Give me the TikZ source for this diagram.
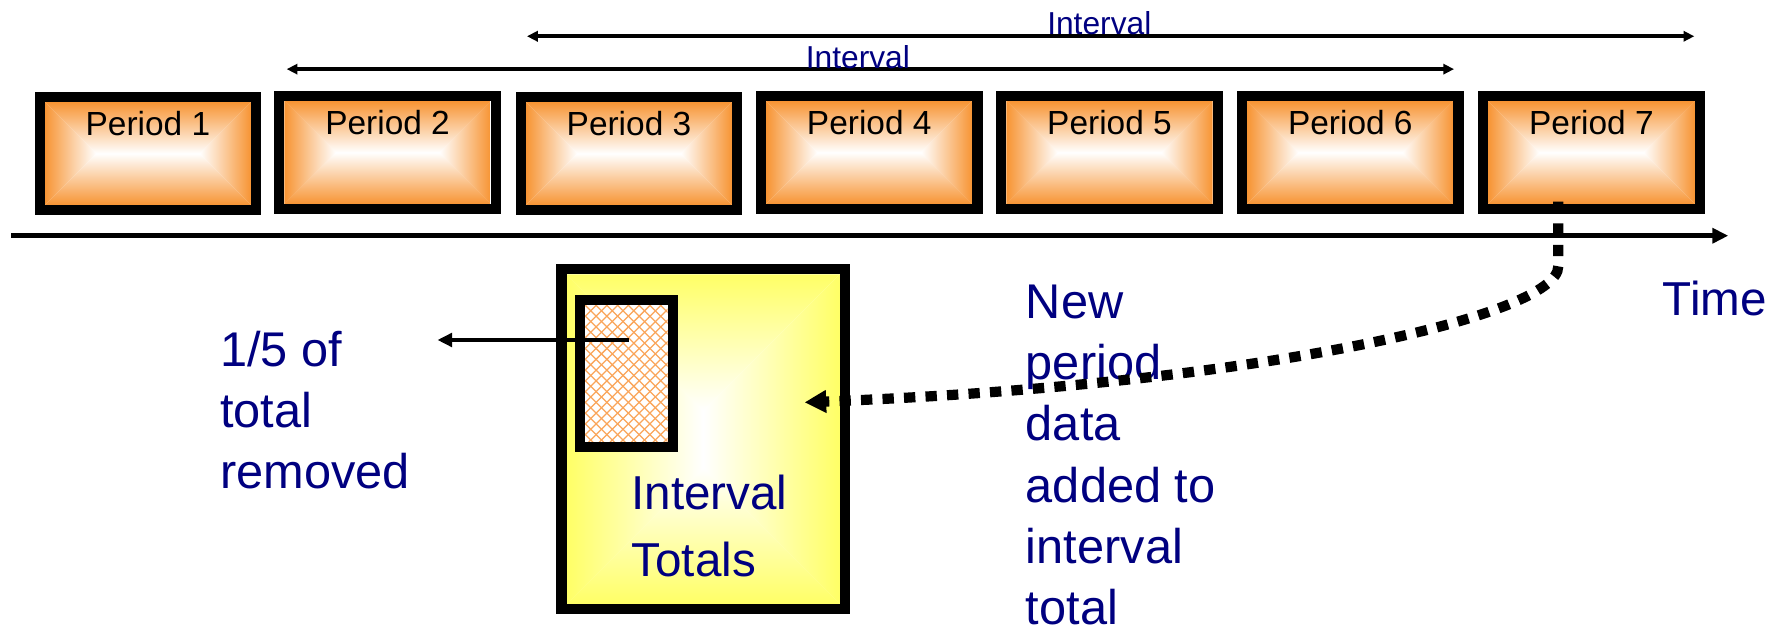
\documentclass[tikz,border=0pt]{standalone}
\usepackage{fontspec}
\setmainfont{Liberation Sans}
\usetikzlibrary{arrows.meta}
\definecolor{porange}{RGB}{247,148,51}
\definecolor{pyellow}{RGB}{255,255,102}
\definecolor{navytext}{RGB}{0,0,128}
\definecolor{hatchorange}{RGB}{250,165,90}
% rectangle gradient "from centre", wide rectangle
\newcommand\hgrad[5]{%
  \pgfmathsetmacro\gxa{#1}\pgfmathsetmacro\gya{#2}%
  \pgfmathsetmacro\gxb{#3}\pgfmathsetmacro\gyb{#4}%
  \pgfmathsetmacro\gcy{(\gya+\gyb)/2}%
  \pgfmathsetmacro\gsa{\gxa+(\gyb-\gya)/2}%
  \pgfmathsetmacro\gsb{\gxb-(\gyb-\gya)/2}%
  \fill[white] (\gxa,\gya) rectangle (\gxb,\gyb);
  \shade[left color=#5,right color=white] (\gxa,\gya) -- (\gsa,\gcy) -- (\gxa,\gyb) -- cycle;
  \shade[left color=white,right color=#5] (\gxb,\gya) -- (\gsb,\gcy) -- (\gxb,\gyb) -- cycle;
  \shade[top color=#5,bottom color=white] (\gxa,\gya) -- (\gxb,\gya) -- (\gsb,\gcy) -- (\gsa,\gcy) -- cycle;
  \shade[top color=white,bottom color=#5] (\gxa,\gyb) -- (\gxb,\gyb) -- (\gsb,\gcy) -- (\gsa,\gcy) -- cycle;
}
% rectangle gradient "from centre", tall rectangle
\newcommand\vgrad[5]{%
  \pgfmathsetmacro\gxa{#1}\pgfmathsetmacro\gya{#2}%
  \pgfmathsetmacro\gxb{#3}\pgfmathsetmacro\gyb{#4}%
  \pgfmathsetmacro\gcx{(\gxa+\gxb)/2}%
  \pgfmathsetmacro\gsa{\gya+(\gxb-\gxa)/2}%
  \pgfmathsetmacro\gsb{\gyb-(\gxb-\gxa)/2}%
  \fill[white] (\gxa,\gya) rectangle (\gxb,\gyb);
  \shade[top color=#5,bottom color=white] (\gxa,\gya) -- (\gxb,\gya) -- (\gcx,\gsa) -- cycle;
  \shade[top color=white,bottom color=#5] (\gxa,\gyb) -- (\gxb,\gyb) -- (\gcx,\gsb) -- cycle;
  \shade[left color=#5,right color=white] (\gxa,\gya) -- (\gcx,\gsa) -- (\gcx,\gsb) -- (\gxa,\gyb) -- cycle;
  \shade[left color=white,right color=#5] (\gxb,\gya) -- (\gcx,\gsa) -- (\gcx,\gsb) -- (\gxb,\gyb) -- cycle;
}
% period box: name, x1, y1, x2, y2, label
\newcommand\periodbox[6]{%
  \pgfmathsetmacro\pxa{#2}\pgfmathsetmacro\pya{#3}%
  \pgfmathsetmacro\pxb{#4}\pgfmathsetmacro\pyb{#5}%
  \hgrad{\pxa+9}{\pya+9}{\pxb-9}{\pyb-9}{porange}
  \pgfmathsetmacro\pxa{#2}\pgfmathsetmacro\pya{#3}%
  \pgfmathsetmacro\pxb{#4}\pgfmathsetmacro\pyb{#5}%
  \draw[thickbox] ({\pxa+4.5},{\pya+4.5}) rectangle ({\pxb-4.5},{\pyb-4.5});
  \node[periodlabel] (#1) at ({(\pxa+\pxb)/2},{\pya+39}) {#6};
}
\tikzset{
  thickbox/.style={draw=black, line width=9pt},
  periodlabel/.style={anchor=base, inner sep=0pt, text=black, font=\fontsize{29.5}{35}\selectfont},
  navylabel/.style={anchor=base west, inner sep=0pt, align=left, text=navytext, font=\fontsize{43}{54}\selectfont},
  intlabel/.style={anchor=base, inner sep=0pt, text=navytext, font=\fontsize{28}{33}\selectfont},
  intarrow/.style={line width=3.5pt, {Triangle[length=9.5pt,width=9pt]}-{Triangle[length=9.5pt,width=9pt]}},
  timearrow/.style={line width=4.4pt, -{Triangle[length=14pt,width=13pt]}},
  removearrow/.style={line width=4pt, -{Triangle[length=13pt,width=12pt]}},
  dotarrow/.style={line width=9pt, dash pattern=on 10pt off 9pt, -{Triangle[length=19pt,width=19pt]}},
  hatchline/.style={hatchorange, line width=1.1pt}
}
\begin{document}
\begin{tikzpicture}[x=1pt,y=-1pt]
\useasboundingbox (0,0) rectangle (1568,555);

% Interval totals box
\vgrad{500}{242}{741}{533}{pyellow}
\draw[thickbox] (495.5,237.5) rectangle (745.5,537.5);
% (base of a multi-line node = baseline of its last line)
\node[navylabel, font=\fontsize{42}{59}\selectfont] (totals) at (557,509) {Interval\\Totals};

% hatched part
\fill[white] (516,269) rectangle (589,390);
\begin{scope}
  \clip (516,269) rectangle (589,390);
  \foreach \i in {-16,...,24}{
    \draw[hatchline] ({507+\i*9.5},260) -- ++(140,140);
    \draw[hatchline] ({507+\i*9.5},260) -- ++(-140,140);
  }
\end{scope}
\draw[thickbox] (511.5,264.5) rectangle (593.5,394.5);

\coordinate (rmstart) at (555,300);
\coordinate (rmend) at (386,300);
\draw[removearrow] (rmstart) -- (rmend);
\node[navylabel] (removed) at (194,431) {1/5 of\\total\\removed};

% periods
\periodbox{p1}{30.5}{81}{230.5}{190}{Period 1}
\periodbox{p2}{242}{80}{442}{189}{Period 2}
\periodbox{p3}{455}{81}{655}{190}{Period 3}
\periodbox{p4}{667}{80}{867}{189}{Period 4}
\periodbox{p5}{879}{80}{1079}{189}{Period 5}
\periodbox{p6}{1091.5}{80}{1291.5}{189}{Period 6}
\periodbox{p7}{1304}{80}{1504.5}{189}{Period 7}

% intervals
\coordinate (i1a) at (465,32);
\coordinate (i1b) at (1495,32);
\draw[intarrow] (i1a) -- (i1b);
\node[intlabel] (int1) at (970,30) {Interval};
\coordinate (i2a) at (253,61);
\coordinate (i2b) at (1283,61);
\draw[intarrow] (i2a) -- (i2b);
\node[intlabel] (int2) at (757,60) {Interval};

% time axis
\coordinate (t0) at (10,208);
\coordinate (t1) at (1525,208);
\draw[timearrow] (t0) -- (t1);
\node[navylabel, font=\fontsize{42}{54}\selectfont] (time) at (1467,278) {Time};

% new data
\node[navylabel] (newdata) at (905,551) {New\\period\\data\\added to\\interval\\total};
\coordinate (d0) at (1375,178);
\coordinate (d1) at (1375,235);
\coordinate (d2) at (710,355);
\draw[dotarrow] (d0) -- (d1) .. controls (1375,280) and (1100,340) .. (d2);
\end{tikzpicture}
\end{document}
